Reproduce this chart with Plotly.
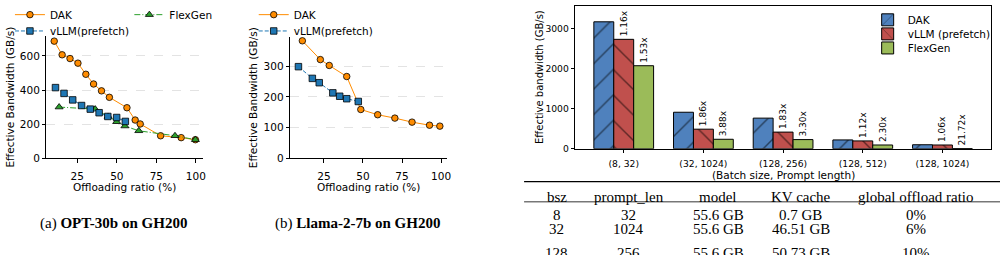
import plotly.graph_objects as go

W, H = 1005, 255


def px(x):
    return x / W


def py(y):
    return 1 - y / H


# ---------------- data ----------------
# (a) OPT-30b on GH200
a_dak_x = [10.4, 15.4, 20.4, 25.4, 30.4, 35.3, 40.3, 45.3, 56.4, 61.6, 64.8, 77.7, 90.7, 99.7]
a_dak_y = [687, 607, 585, 558, 493, 436, 396, 358, 297, 225, 202, 133, 122, 110]
a_vllm_x = [11.2, 16.6, 22.1, 27.7, 33.2, 38.8, 44.3, 49.9, 55.4]
a_vllm_y = [415, 381, 343, 310, 289, 268, 246, 240, 217]
a_flex_x = [13.5, 36.3, 44.5, 49.9, 55.1, 63.9, 86.8, 99.7]
a_flex_y = [301, 289, 246, 215, 190, 162, 133, 110]

# (b) Llama-2-7b on GH200
b_dak_x = [11.2, 22.7, 28.4, 39.6, 48.6, 59.4, 70.4, 81.4, 92.6, 99.2]
b_dak_y = [382, 321, 302, 266, 159, 142, 131, 118, 108, 105]
b_vllm_x = [8.7, 17.6, 22.0, 30.7, 35.1, 39.6, 47.0]
b_vllm_y = [298, 260, 246, 213, 202, 194, 185]
b_flex_x = []
b_flex_y = []

line_xticks = [25, 50, 75, 100]
a_yticks = [0, 200, 400, 600]
b_yticks = [0, 100, 200, 300]

# bar chart
bar_categories = ["(8, 32)", "(32, 1024)", "(128, 256)", "(128, 512)", "(128, 1024)"]
bar_dak = [3170, 911, 764, 220, 99]
bar_vllm = [2732, 488, 415, 195, 93]
bar_flex = [2073, 236, 228, 93, 5]
bar_vllm_labels = ["1.16x", "1.86x", "1.83x", "1.12x", "1.06x"]
bar_flex_labels = ["1.53x", "3.88x", "3.30x", "2.30x", "21.72x"]
bar_yticks = [0, 1000, 2000, 3000]

# table
tbl_header = ["bsz", "prompt_len", "model", "KV cache", "global offload ratio"]
tbl_bsz = ["8", "32", "128"]
tbl_prompt = ["32", "1024", "256"]
tbl_model = ["55.6 GB", "55.6 GB", "55.6 GB"]
tbl_kv = ["0.7 GB", "46.51 GB", "50.73 GB"]
tbl_ratio = ["0%", "6%", "10%"]

# ---------------- styles ----------------
SANS = "DejaVu Sans"
SERIF = "Liberation Serif"
C_DAK = "#ff8c00"
C_VLLM = "#1f77b4"
C_FLEX = "#2ca02c"
B_DAK = "#4f81bd"
B_VLLM = "#c0504d"
B_FLEX = "#9bbb59"

fig = go.Figure()


def line_trace(x, y, name, color, dash, symbol, xa, ya, legend):
    return go.Scatter(
        x=x, y=y, name=name, mode="lines+markers",
        line=dict(color=color, width=1, dash=dash),
        marker=dict(symbol=symbol, size=6.5 if symbol != "triangle-up" else 7,
                    color=color, line=dict(color="black", width=0.8)),
        xaxis=xa, yaxis=ya, legend=legend, showlegend=True, cliponaxis=False,
    )


fig.add_trace(line_trace(a_dak_x, a_dak_y, "DAK", C_DAK, "solid", "circle", "x", "y", "legend10"))
fig.add_trace(line_trace(a_flex_x, a_flex_y, "FlexGen", C_FLEX, "6px,2px,1px,2px", "triangle-up", "x", "y", "legend2"))
fig.add_trace(line_trace(a_vllm_x, a_vllm_y, "vLLM(prefetch)", C_VLLM, "4px,2px", "square", "x", "y", "legend3"))

fig.add_trace(line_trace(b_dak_x, b_dak_y, "DAK", C_DAK, "solid", "circle", "x2", "y2", "legend4"))
fig.add_trace(line_trace(b_flex_x, b_flex_y, "FlexGen", C_FLEX, "6px,2px,1px,2px", "triangle-up", "x2", "y2", "legend5"))
fig.add_trace(line_trace(b_vllm_x, b_vllm_y, "vLLM(prefetch)", C_VLLM, "4px,2px", "square", "x2", "y2", "legend6"))


def bar_trace(y, name, color, shape, labels, legend):
    pat = dict(shape=shape, fgcolor="black", fillmode="overlay", size=18, solidity=0.08) if shape else None
    kw = {}
    if labels is not None:
        kw = dict(text=labels, textposition="outside", textangle=-90, constraintext="none",
                  textfont=dict(family=SANS, size=9, color="black"))
    return go.Bar(
        x=bar_categories, y=y, name=name,
        marker=dict(color=color, line=dict(color="black", width=1), pattern=pat),
        xaxis="x3", yaxis="y3", legend=legend, cliponaxis=False, **kw,
    )


fig.add_trace(bar_trace(bar_dak, "DAK", B_DAK, "/", None, "legend7"))
fig.add_trace(bar_trace(bar_vllm, "vLLM (prefetch)", B_VLLM, "\\", bar_vllm_labels, "legend8"))
fig.add_trace(bar_trace(bar_flex, "FlexGen", B_FLEX, "", bar_flex_labels, "legend9"))

axis_common = dict(showline=True, linecolor="black", linewidth=1, ticks="outside",
                   ticklen=3.5, tickwidth=0.8, tickcolor="black", zeroline=False,
                   tickfont=dict(family=SANS, size=10.5, color="black"))
bar_axis = {**axis_common, "tickfont": dict(family=SANS, size=9.2, color="black")}

fig.update_layout(
    width=W, height=H, margin=dict(l=0, r=0, t=0, b=0),
    paper_bgcolor="white", plot_bgcolor="white",
    font=dict(family=SANS, size=10.5, color="black"),
    barmode="group", bargap=0.25, bargroupgap=0,
    xaxis=dict(domain=[px(46.7), px(204)], range=[5.5, 104.5], tickvals=line_xticks,
               anchor="y", showgrid=False, ticklabelstandoff=4, **axis_common),
    yaxis=dict(domain=[py(162.3), py(36.7)], range=[0, 718], tickvals=a_yticks,
               anchor="x", showgrid=True, gridcolor="#e3e3e3", gridwidth=0.8, griddash="dash",
               **axis_common),
    xaxis2=dict(domain=[px(291.7), px(448.8)], range=[3.45, 103.5], tickvals=line_xticks,
                anchor="y2", showgrid=False, ticklabelstandoff=4, **axis_common),
    yaxis2=dict(domain=[py(162.3), py(38.3)], range=[0, 393], tickvals=b_yticks,
                anchor="x2", showgrid=True, gridcolor="#e3e3e3", gridwidth=0.8, griddash="dash",
                **axis_common),
    xaxis3=dict(domain=[px(578), px(996)], range=[-0.61, 4.61], type="category",
                anchor="y3", showgrid=False, mirror=True, ticklabelstandoff=3, **bar_axis),
    yaxis3=dict(domain=[py(152.3), py(6)], range=[0, 3568], tickvals=bar_yticks,
                anchor="x3", showgrid=False, mirror=True, **bar_axis),
)

legend_style = dict(xanchor="left", yanchor="middle", bgcolor="rgba(0,0,0,0)", borderwidth=0,
                    font=dict(family=SANS, size=10.5, color="black"), itemwidth=30,
                    tracegroupgap=0, orientation="v")
legend_pos = {
    "legend10": (10, 15), "legend2": (130, 15), "legend3": (10, 31.7),
    "legend4": (255, 15), "legend5": (375, 15), "legend6": (255, 31.7),
    "legend7": (872, 20.3), "legend8": (872, 34.7), "legend9": (872, 49.1),
}
fig.update_layout({k: dict(x=px(v[0]), y=py(v[1]), **legend_style) for k, v in legend_pos.items()})

ann = []


def text(x, y, s, size, family=SANS, angle=0):
    # y is the visual centre of the glyphs; plotly's box centre sits a bit lower
    dy = 0.42 * size if angle == 0 else 0
    ann.append(dict(x=px(x), y=py(y + dy), xref="paper", yref="paper", text=s, showarrow=False,
                    textangle=angle, font=dict(family=family, size=size, color="black"),
                    xanchor="center", yanchor="middle"))


# axis titles
text(10.5, 99.5, "Effective Bandwidth (GB/s)", 10.5, angle=-90)
text(254.5, 100.3, "Effective Bandwidth (GB/s)", 10.5, angle=-90)
text(125.3, 187, "Offloading ratio (%)", 10.5)
text(370.2, 187, "Offloading ratio (%)", 10.5)
text(541.5, 79, "Effective bandwidth (GB/s)", 10, angle=-90)
text(787, 174.5, "(Batch size, Prompt length)", 10.5)

# captions
text(114, 222.5, "(a) <b>OPT-30b on GH200</b>", 15, family=SERIF)
text(359, 222.5, "(b) <b>Llama-2-7b on GH200</b>", 15, family=SERIF)

# table
col_x = [559.5, 632, 722, 805, 921]
row_y = [195.5, 214.3, 228.7, 252.5]
for cx, h in zip(col_x, tbl_header):
    text(cx, row_y[0], h, 15, family=SERIF)
for r, row in enumerate(zip(tbl_bsz, tbl_prompt, tbl_model, tbl_kv, tbl_ratio)):
    for cx, s in zip(col_x, row):
        text(cx, row_y[r + 1], s, 15, family=SERIF)

fig.update_layout(
    annotations=ann,
    shapes=[
        dict(type="line", xref="paper", yref="paper", x0=px(526.7), x1=1, y0=py(186), y1=py(186),
             line=dict(color="black", width=1.3)),
        dict(type="line", xref="paper", yref="paper", x0=px(526.7), x1=1, y0=py(206.7), y1=py(206.7),
             line=dict(color="black", width=0.8)),
    ],
)

fig.write_html("out.html")
